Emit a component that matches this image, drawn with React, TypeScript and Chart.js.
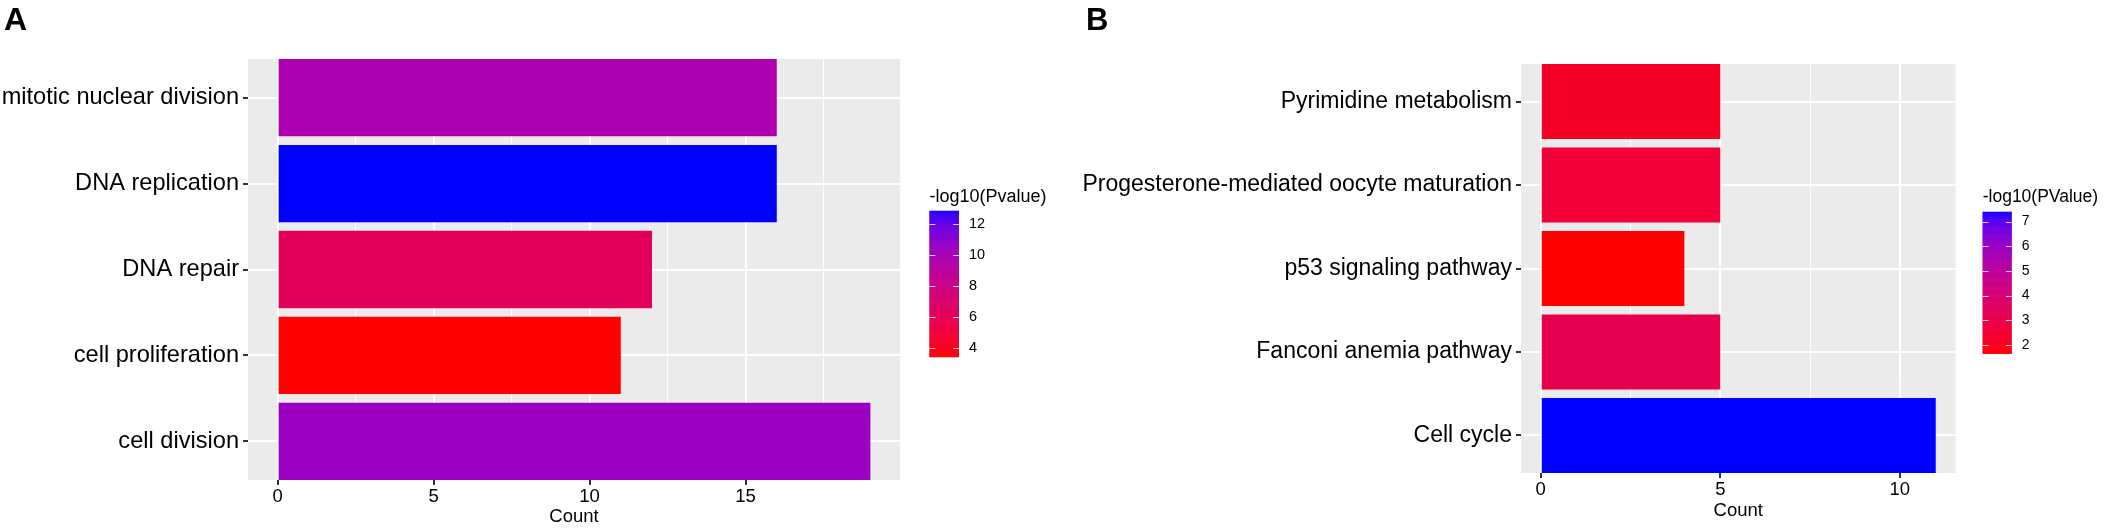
import React, { useEffect, useRef } from 'react';
import { Chart, registerables } from 'chart.js';
Chart.register(...registerables);

const FONT = '"Liberation Sans", Arial, Helvetica, sans-serif';

// Panel A - GO terms
const termsA = ['mitotic nuclear division', 'DNA replication', 'DNA repair', 'cell proliferation', 'cell division'];
const countsA = [16, 16, 12, 11, 19];
const logPA = [9.8, 12.88, 6.3, 3.46, 10.5];
const legendTicksA = [4, 6, 8, 10, 12];

// Panel B - KEGG pathways
const termsB = ['Pyrimidine metabolism', 'Progesterone-mediated oocyte maturation', 'p53 signaling pathway', 'Fanconi anemia pathway', 'Cell cycle'];
const countsB = [5, 5, 4, 5, 11];
const logPB = [2.2, 2.5, 1.66, 3.1, 7.4];
const legendTicksB = [2, 3, 4, 5, 6, 7];

// ggplot style red -> blue gradient, interpolated in CIELAB
const toLin = (c: number) => {
  c /= 255;
  return c <= 0.04045 ? c / 12.92 : Math.pow((c + 0.055) / 1.055, 2.4);
};
const fromLin = (c: number) => {
  const v = c <= 0.0031308 ? 12.92 * c : 1.055 * Math.pow(Math.max(c, 0), 1 / 2.4) - 0.055;
  return Math.round(Math.min(1, Math.max(0, v)) * 255);
};
const rgbToLab = ([r, g, b]: number[]) => {
  const R = toLin(r), G = toLin(g), B = toLin(b);
  const X = (0.4124 * R + 0.3576 * G + 0.1805 * B) / 0.95047;
  const Y = 0.2126 * R + 0.7152 * G + 0.0722 * B;
  const Z = (0.0193 * R + 0.1192 * G + 0.9505 * B) / 1.08883;
  const f = (t: number) => (t > 216 / 24389 ? Math.cbrt(t) : ((24389 / 27) * t + 16) / 116);
  const fx = f(X), fy = f(Y), fz = f(Z);
  return [116 * fy - 16, 500 * (fx - fy), 200 * (fy - fz)];
};
const labToRgb = ([L, a, b]: number[]) => {
  const fy = (L + 16) / 116;
  const fx = fy + a / 500;
  const fz = fy - b / 200;
  const inv = (t: number) => (t ** 3 > 216 / 24389 ? t ** 3 : (116 * t - 16) / (24389 / 27));
  const X = inv(fx) * 0.95047, Y = inv(fy), Z = inv(fz) * 1.08883;
  const R = 3.2406 * X - 1.5372 * Y - 0.4986 * Z;
  const G = -0.9689 * X + 1.8758 * Y + 0.0415 * Z;
  const B = 0.0557 * X - 0.204 * Y + 1.057 * Z;
  return `rgb(${fromLin(R)},${fromLin(G)},${fromLin(B)})`;
};
const LOW = rgbToLab([255, 0, 0]);
const HIGH = rgbToLab([0, 0, 255]);
const ramp = (t: number) => labToRgb(LOW.map((v, i) => v + (HIGH[i] - v) * Math.min(1, Math.max(0, t))));

type PanelProps = {
  letter: string;
  letterSize: number;
  letterX: number;
  terms: string[];
  counts: number[];
  logP: number[];
  legendTitle: string;
  legendTicks: number[];
  width: number;
  left: number;
  areaLeft: number;
  areaRight: number;
  areaTop: number;
  areaBottom: number;
  xAxisHeight: number;
  termFont: number;
  tickFont: number;
  legend: { x: number; y: number; w: number; h: number; titleY: number; titleSize: number; labelSize: number };
};

const Panel = (p: PanelProps) => {
  const canvasRef = useRef<HTMLCanvasElement>(null);
  const chartRef = useRef<Chart | null>(null);

  useEffect(() => {
    if (!canvasRef.current) return;
    if (chartRef.current) chartRef.current.destroy();

    const lo = Math.min(...p.logP);
    const hi = Math.max(...p.logP);
    const colors = p.logP.map((v) => ramp((v - lo) / (hi - lo)));
    const maxCount = Math.max(...p.counts);

    const decorations = {
      id: 'decorations',
      beforeDraw(chart: Chart) {
        const { ctx, chartArea } = chart;
        ctx.save();
        ctx.fillStyle = '#EBEBEB';
        ctx.fillRect(chartArea.left, chartArea.top, chartArea.right - chartArea.left, chartArea.bottom - chartArea.top);
        ctx.restore();
      },
      afterDraw(chart: Chart) {
        const { ctx } = chart;
        const L = p.legend;
        ctx.save();
        // panel letter
        ctx.fillStyle = '#000';
        ctx.font = `bold ${p.letterSize}px ${FONT}`;
        ctx.textBaseline = 'alphabetic';
        ctx.textAlign = 'left';
        ctx.fillText(p.letter, p.letterX, 29.5);
        // legend title
        ctx.font = `${L.titleSize}px ${FONT}`;
        ctx.fillText(p.legendTitle, L.x, L.titleY);
        // colour bar
        const steps = 300;
        for (let i = 0; i < steps; i++) {
          ctx.fillStyle = ramp(1 - i / steps);
          ctx.fillRect(L.x, L.y + (i * L.h) / steps, L.w, L.h / steps + 0.6);
        }
        const yOf = (v: number) => L.y + ((hi - v) / (hi - lo)) * L.h;
        ctx.strokeStyle = 'rgba(255,255,255,0.8)';
        ctx.lineWidth = 1;
        ctx.font = `${L.labelSize}px ${FONT}`;
        ctx.fillStyle = '#000';
        ctx.textBaseline = 'middle';
        p.legendTicks.forEach((t) => {
          const y = Math.round(yOf(t)) + 0.5;
          ctx.beginPath();
          ctx.moveTo(L.x, y);
          ctx.lineTo(L.x + L.w / 5, y);
          ctx.moveTo(L.x + L.w - L.w / 5, y);
          ctx.lineTo(L.x + L.w, y);
          ctx.stroke();
          ctx.fillText(String(t), L.x + L.w + 10, yOf(t));
        });
        ctx.restore();
      },
    };

    chartRef.current = new Chart(canvasRef.current, {
      type: 'bar',
      data: {
        datasets: [
          {
            data: p.counts.map((c, i) => ({ x: c, y: i })),
            backgroundColor: colors,
            borderWidth: 0,
            barPercentage: 0.9,
            categoryPercentage: 1,
          },
        ],
      },
      options: {
        indexAxis: 'y',
        animation: false,
        responsive: false,
        events: [],
        layout: {
          padding: {
            left: 0,
            top: p.areaTop,
            right: p.width - p.areaRight,
            bottom: 528 - p.areaBottom - p.xAxisHeight,
          },
        },
        plugins: { legend: { display: false }, tooltip: { enabled: false } },
        scales: {
          x: {
            type: 'linear',
            min: -0.05 * maxCount,
            max: 1.05 * maxCount,
            border: { display: false },
            afterFit: (scale: any) => {
              scale.height = p.xAxisHeight;
            },
            ticks: {
              stepSize: 2.5,
              includeBounds: false,
              autoSkip: false,
              maxRotation: 0,
              padding: 1,
              color: '#000',
              font: { family: FONT, size: p.tickFont },
              callback: (v: any) => (Number(v) % 5 === 0 ? String(v) : ''),
            },
            grid: {
              color: '#FFFFFF',
              lineWidth: (c: any) => (c.tick && c.tick.value % 5 === 0 ? 2 : 1),
              tickLength: 5,
              tickWidth: 2,
              tickColor: (c: any) => (c.tick && c.tick.value % 5 === 0 ? '#333333' : 'rgba(0,0,0,0)'),
            },
            title: {
              display: true,
              text: 'Count',
              color: '#000',
              padding: 0,
              font: { family: FONT, size: 18.5 },
            },
          },
          y: {
            type: 'linear',
            min: -0.45,
            max: p.terms.length - 0.55,
            reverse: true,
            offset: false,
            border: { display: false },
            afterFit: (scale: any) => {
              scale.width = p.areaLeft;
            },
            ticks: {
              stepSize: 1,
              includeBounds: false,
              autoSkip: false,
              padding: 4,
              color: '#000',
              font: { family: FONT, size: p.termFont },
              callback: (v: any) => p.terms[Number(v)] ?? '',
            },
            grid: {
              offset: false,
              color: '#FFFFFF',
              lineWidth: 2,
              tickLength: 5,
              tickWidth: 2,
              tickColor: '#333333',
            },
          },
        },
      } as any,
      plugins: [decorations],
    });

    return () => {
      if (chartRef.current) {
        chartRef.current.destroy();
        chartRef.current = null;
      }
    };
  }, []);

  return (
    <canvas
      ref={canvasRef}
      width={p.width}
      height={528}
      style={{ position: 'absolute', left: p.left, top: 0, width: p.width, height: 528, display: 'block' }}
    />
  );
};

const App = () => {
  useEffect(() => {
    document.body.style.margin = '0';
  }, []);

  return (
    <div style={{ position: 'relative', width: 2107, height: 528, background: '#fff', overflow: 'hidden' }}>
      <Panel
        letter="A"
        letterSize={32}
        letterX={4}
        terms={termsA}
        counts={countsA}
        logP={logPA}
        legendTitle="-log10(Pvalue)"
        legendTicks={legendTicksA}
        width={1060}
        left={0}
        areaLeft={248}
        areaRight={900}
        areaTop={59}
        areaBottom={480}
        xAxisHeight={48}
        termFont={23.6}
        tickFont={18.5}
        legend={{ x: 929.5, y: 210.7, w: 29.5, h: 146, titleY: 201.5, titleSize: 18, labelSize: 14.5 }}
      />
      <Panel
        letter="B"
        letterSize={31}
        letterX={26}
        terms={termsB}
        counts={countsB}
        logP={logPB}
        legendTitle="-log10(PValue)"
        legendTicks={legendTicksB}
        width={1047}
        left={1060}
        areaLeft={461}
        areaRight={895.5}
        areaTop={64}
        areaBottom={473}
        xAxisHeight={49}
        termFont={23}
        tickFont={18.5}
        legend={{ x: 922.7, y: 211.7, w: 29, h: 141.6, titleY: 201.5, titleSize: 17.5, labelSize: 14 }}
      />
    </div>
  );
};

export default App;
